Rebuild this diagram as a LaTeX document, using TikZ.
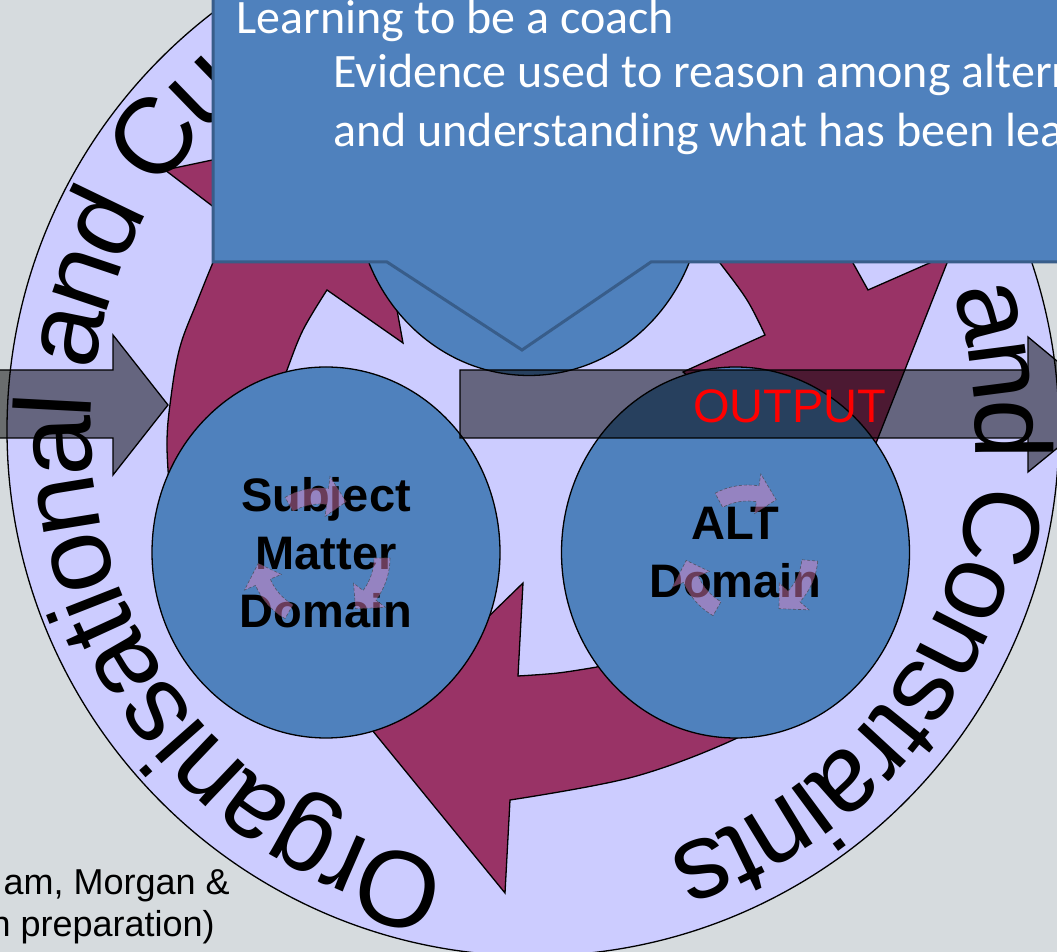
\documentclass[tikz,border=0pt]{standalone}
\usepackage{fontspec}
\setmainfont{Liberation Sans}
\newfontfamily\ringfont{Liberation Sans}
\newfontfamily\calloutfont{Carlito}
\usetikzlibrary{positioning, calc, shapes.geometric, decorations.text}

\definecolor{slidebg}{RGB}{214,219,222}
\definecolor{ringlav}{RGB}{204,204,255}
\definecolor{cyclemaroon}{RGB}{153,51,102}
\definecolor{domainblue}{RGB}{79,129,189}
\definecolor{calloutedge}{RGB}{56,93,138}
\definecolor{iconpink}{RGB}{235,135,200}

\begin{document}
\begin{tikzpicture}[x=1pt, y=1pt,
    domainnode/.style={ellipse, draw, fill=domainblue, line width=1.3pt, minimum width=348pt, minimum height=371pt, inner sep=0pt, align=center, font=\bfseries\fontsize{47}{58}\selectfont},
    cyclearrow/.style={fill=cyclemaroon, draw=black, line width=1.3pt},
    grayarrow/.style={fill=black, fill opacity=0.5, draw=black, draw opacity=1, line width=1.3pt},
    iconarrow/.style={fill=iconpink, fill opacity=0.45, draw=darkgray, draw opacity=0.7, densely dashed, line width=0.6pt},
    calltext/.style={text=white, inner sep=0pt, anchor=base west, font=\calloutfont\fontsize{48}{58}\selectfont},
    ringtext/.style={decorate, decoration={text along path, text align=left, raise=-39pt, text={|\ringfont\fontsize{108}{120}\selectfont|#1}}}]
  \useasboundingbox (0,0) rectangle (1057,952);
  \clip (0,0) rectangle (1057,952);
  \fill[slidebg] (0,0) rectangle (1057,952);

  % outer ring
  \coordinate (hub) at (533,522);
  \filldraw[fill=ringlav, draw=black, line width=1.3pt] (hub) circle[radius=526];

  % cycle arrows
  \filldraw[cyclearrow] (165,782) -- (232,731)
    -- plot[smooth, tension=0.6] coordinates {(232,731) (217,699) (197,650) (180,605) (171,555) (167,505) (172,432)}
    -- (275,430) -- (281,565)
    -- plot[smooth, tension=0.6] coordinates {(281,565) (287,582) (303,622) (327,662)}
    -- (403,609) -- (397,642) -- (364,824) -- cycle;
  \filldraw[cyclearrow] (868,662) -- (950,698) -- (947,689) -- (878,514) -- (866,484) -- (745,530) -- (683,580) -- (765,617)
    -- plot[smooth, tension=0.6] coordinates {(765,617) (747,652) (720,689) (702,712)}
    -- (843,707) -- cycle;
  \filldraw[cyclearrow] (372,222) -- (505,59) -- (510,152)
    -- plot[smooth, tension=0.6] coordinates {(510,152) (633,175) (733,212) (765,235)}
    -- (625,315) -- (597,285)
    -- plot[smooth, tension=0.6] coordinates {(597,285) (558,279) (518,276)}
    -- (523,369) -- cycle;

  % domains
  \node[domainnode] (top) at (529,762) {};
  \node[domainnode] (subject) at (326,399.5) {Subject\\Matter\\Domain};
  \node[domainnode] (alt) at (735.5,399.5) {ALT\\Domain};

  \begin{scope}[shift={(320,394)}]
    \foreach \a in {120,0,240}
      \filldraw[iconarrow] (\a:70) arc[start angle=\a, end angle=\a-37, radius=70]
        -- (\a-37:82) -- (\a-55:62) -- (\a-37:42) -- (\a-37:54)
        arc[start angle=\a-37, end angle=\a, radius=54] -- cycle;
  \end{scope}
  \begin{scope}[shift={(748,397)}]
    \foreach \a in {118,-5,240}
      \filldraw[iconarrow] (\a:70) arc[start angle=\a, end angle=\a-37, radius=70]
        -- (\a-37:82) -- (\a-55:62) -- (\a-37:42) -- (\a-37:54)
        arc[start angle=\a-37, end angle=\a, radius=54] -- cycle;
  \end{scope}

  % input / output
  \filldraw[grayarrow] (-30,514) -- (113,514) -- (113,477) -- (168,547) -- (113,617) -- (113,582) -- (-30,582) -- cycle;
  \filldraw[grayarrow] (460,514) -- (1028,514) -- (1028,480) -- (1110,547) -- (1028,615) -- (1028,582) -- (460,582) -- cycle;
  \node[text=red, inner sep=0pt, font=\fontsize{47}{50}\selectfont] (output) at (790,546) {OUTPUT};

  % ring labels
  \path[ringtext={Organisational and Cu}] (hub) ++(258.6:481) arc[start angle=258.6, end angle=80, radius=481];
  \path[ringtext={and Constraints}] (hub) ++(18:481) arc[start angle=18, end angle=-100, radius=481];

  % callout
  \filldraw[fill=domainblue, draw=calloutedge, line width=3pt] (213,990) -- (213,690) -- (387,690) -- (522,602) -- (651,690) -- (1080,690) -- (1080,990) -- cycle;
  \node[calltext] (learn) at (236,918) {Learning to be a coach};
  \node[calltext] (evidence) at (333,864) {Evidence used to reason among altern};
  \node[calltext] (understand) at (333,805) {and understanding what has been lea};

  \node[anchor=base east, inner sep=0pt, font=\fontsize{36}{40}\selectfont] (cite1) at (230,57) {am, Morgan \&};
  \node[anchor=base east, inner sep=0pt, font=\fontsize{36}{40}\selectfont] (cite2) at (215,15) {n preparation)};
\end{tikzpicture}
\end{document}
